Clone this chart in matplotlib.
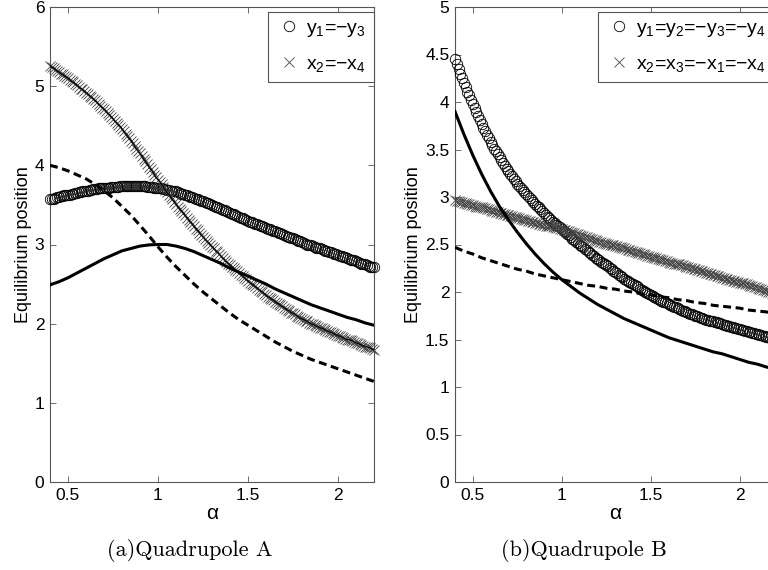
import numpy as np
import matplotlib.pyplot as plt
from matplotlib.ticker import FormatStrFormatter

plt.rcParams['font.family'] = ['Liberation Sans', 'DejaVu Sans']
plt.rcParams['mathtext.fontset'] = 'custom'
plt.rcParams['mathtext.rm'] = 'Liberation Sans'
plt.rcParams['mathtext.it'] = 'Liberation Sans'

# alpha grid of the marker series (one marker every 0.01)
alpha_fine = np.linspace(0.4, 2.2, 181)
# alpha grid of the plain lines (every 0.05)
alpha_line = np.linspace(0.4, 2.2, 37)

# ---- Quadrupole A ----
a_circ = [
    3.57, 3.58, 3.58, 3.59, 3.60, 3.60, 3.61, 3.61, 3.62, 3.62,
    3.63, 3.63, 3.64, 3.64, 3.65, 3.65, 3.66, 3.66, 3.67, 3.67,
    3.68, 3.68, 3.69, 3.69, 3.70, 3.70, 3.70, 3.71, 3.71, 3.71,
    3.72, 3.72, 3.72, 3.72, 3.73, 3.73, 3.73, 3.73, 3.73, 3.74,
    3.74, 3.74, 3.74, 3.74, 3.74, 3.74, 3.74, 3.74, 3.74, 3.74,
    3.74, 3.74, 3.74, 3.74, 3.73, 3.73, 3.73, 3.73, 3.72, 3.72,
    3.72, 3.71, 3.71, 3.70, 3.70, 3.69, 3.69, 3.68, 3.68, 3.67,
    3.67, 3.66, 3.65, 3.64, 3.64, 3.63, 3.62, 3.61, 3.60, 3.60,
    3.59, 3.58, 3.57, 3.56, 3.55, 3.55, 3.54, 3.53, 3.52, 3.51,
    3.50, 3.49, 3.48, 3.47, 3.46, 3.45, 3.44, 3.43, 3.42, 3.41,
    3.40, 3.39, 3.38, 3.37, 3.36, 3.35, 3.34, 3.33, 3.32, 3.31,
    3.30, 3.29, 3.28, 3.27, 3.26, 3.26, 3.25, 3.24, 3.23, 3.22,
    3.21, 3.20, 3.19, 3.18, 3.17, 3.17, 3.16, 3.15, 3.14, 3.13,
    3.12, 3.11, 3.10, 3.09, 3.08, 3.08, 3.07, 3.06, 3.05, 3.04,
    3.03, 3.02, 3.01, 3.00, 3.00, 2.99, 2.98, 2.97, 2.96, 2.96,
    2.95, 2.94, 2.93, 2.92, 2.92, 2.91, 2.90, 2.89, 2.88, 2.88,
    2.87, 2.86, 2.85, 2.84, 2.84, 2.83, 2.82, 2.81, 2.80, 2.80,
    2.79, 2.78, 2.77, 2.76, 2.76, 2.75, 2.74, 2.73, 2.72, 2.72,
    2.71]
a_cross = [
    5.26, 5.24, 5.23, 5.21, 5.19, 5.18, 5.16, 5.15, 5.13, 5.12,
    5.10, 5.08, 5.06, 5.05, 5.03, 5.01, 4.99, 4.97, 4.96, 4.94,
    4.92, 4.90, 4.88, 4.86, 4.84, 4.82, 4.80, 4.77, 4.75, 4.73,
    4.71, 4.69, 4.66, 4.64, 4.61, 4.59, 4.56, 4.54, 4.51, 4.49,
    4.46, 4.43, 4.40, 4.37, 4.34, 4.31, 4.28, 4.24, 4.21, 4.18,
    4.15, 4.12, 4.08, 4.05, 4.02, 3.98, 3.95, 3.92, 3.88, 3.85,
    3.82, 3.79, 3.76, 3.73, 3.69, 3.66, 3.63, 3.60, 3.57, 3.54,
    3.51, 3.48, 3.45, 3.42, 3.40, 3.37, 3.34, 3.31, 3.28, 3.26,
    3.23, 3.20, 3.18, 3.15, 3.12, 3.10, 3.07, 3.05, 3.02, 3.00,
    2.97, 2.95, 2.92, 2.90, 2.88, 2.85, 2.83, 2.81, 2.78, 2.76,
    2.74, 2.72, 2.70, 2.68, 2.66, 2.64, 2.62, 2.60, 2.58, 2.56,
    2.54, 2.52, 2.50, 2.49, 2.47, 2.45, 2.43, 2.41, 2.40, 2.38,
    2.36, 2.34, 2.33, 2.31, 2.30, 2.28, 2.26, 2.25, 2.23, 2.22,
    2.20, 2.19, 2.17, 2.16, 2.14, 2.13, 2.12, 2.10, 2.09, 2.07,
    2.06, 2.05, 2.04, 2.03, 2.01, 2.00, 1.99, 1.98, 1.97, 1.96,
    1.95, 1.94, 1.93, 1.92, 1.91, 1.90, 1.89, 1.88, 1.87, 1.86,
    1.85, 1.84, 1.83, 1.82, 1.81, 1.80, 1.80, 1.79, 1.78, 1.77,
    1.76, 1.75, 1.74, 1.73, 1.72, 1.71, 1.71, 1.70, 1.69, 1.68,
    1.67]
a_solid = [2.49, 2.53, 2.58, 2.64, 2.70, 2.76, 2.82, 2.87, 2.92, 2.95,
           2.98, 2.995, 3.00, 3.00, 2.98, 2.95, 2.91, 2.86, 2.81, 2.76,
           2.70, 2.65, 2.60, 2.55, 2.50, 2.44, 2.39, 2.34, 2.29, 2.24,
           2.20, 2.16, 2.12, 2.08, 2.05, 2.01, 1.98]
a_dash = [4.00, 3.97, 3.93, 3.88, 3.83, 3.76, 3.68, 3.59, 3.48, 3.37,
          3.24, 3.11, 2.97, 2.84, 2.72, 2.61, 2.50, 2.40, 2.31, 2.22,
          2.13, 2.05, 1.98, 1.91, 1.84, 1.77, 1.71, 1.65, 1.60, 1.55,
          1.51, 1.47, 1.43, 1.39, 1.35, 1.31, 1.27]

# ---- Quadrupole B ----
b_circ = [
    4.45, 4.40, 4.35, 4.30, 4.25, 4.20, 4.16, 4.11, 4.07, 4.02,
    3.98, 3.94, 3.89, 3.85, 3.81, 3.77, 3.73, 3.69, 3.65, 3.62,
    3.58, 3.55, 3.51, 3.48, 3.45, 3.42, 3.39, 3.36, 3.33, 3.30,
    3.27, 3.24, 3.22, 3.19, 3.17, 3.14, 3.12, 3.10, 3.07, 3.05,
    3.03, 3.01, 2.99, 2.97, 2.95, 2.93, 2.91, 2.89, 2.87, 2.85,
    2.83, 2.81, 2.79, 2.78, 2.76, 2.74, 2.73, 2.71, 2.69, 2.68,
    2.66, 2.64, 2.63, 2.61, 2.60, 2.58, 2.56, 2.55, 2.53, 2.52,
    2.50, 2.48, 2.47, 2.45, 2.44, 2.42, 2.41, 2.39, 2.38, 2.36,
    2.35, 2.34, 2.32, 2.31, 2.29, 2.28, 2.27, 2.25, 2.24, 2.22,
    2.21, 2.20, 2.18, 2.17, 2.16, 2.14, 2.13, 2.12, 2.11, 2.09,
    2.08, 2.07, 2.06, 2.05, 2.03, 2.02, 2.01, 2.00, 1.99, 1.98,
    1.97, 1.96, 1.95, 1.94, 1.93, 1.92, 1.91, 1.90, 1.89, 1.88,
    1.87, 1.86, 1.85, 1.84, 1.84, 1.83, 1.82, 1.81, 1.80, 1.80,
    1.79, 1.78, 1.77, 1.77, 1.76, 1.75, 1.75, 1.74, 1.73, 1.73,
    1.72, 1.71, 1.71, 1.70, 1.70, 1.69, 1.68, 1.68, 1.67, 1.67,
    1.66, 1.65, 1.65, 1.64, 1.64, 1.63, 1.63, 1.62, 1.62, 1.61,
    1.61, 1.60, 1.60, 1.59, 1.59, 1.58, 1.58, 1.57, 1.57, 1.56,
    1.56, 1.55, 1.55, 1.54, 1.54, 1.53, 1.53, 1.52, 1.52, 1.51,
    1.51]
b_cross = [
    2.97, 2.96, 2.96, 2.95, 2.95, 2.94, 2.94, 2.93, 2.93, 2.92,
    2.92, 2.91, 2.90, 2.90, 2.89, 2.89, 2.88, 2.88, 2.87, 2.87,
    2.86, 2.85, 2.85, 2.84, 2.84, 2.83, 2.83, 2.82, 2.82, 2.81,
    2.81, 2.80, 2.80, 2.79, 2.79, 2.78, 2.78, 2.77, 2.77, 2.76,
    2.76, 2.75, 2.75, 2.74, 2.74, 2.73, 2.73, 2.72, 2.72, 2.71,
    2.71, 2.70, 2.70, 2.69, 2.69, 2.68, 2.68, 2.67, 2.67, 2.66,
    2.66, 2.65, 2.65, 2.64, 2.64, 2.63, 2.62, 2.62, 2.61, 2.61,
    2.60, 2.59, 2.59, 2.58, 2.58, 2.57, 2.56, 2.56, 2.55, 2.55,
    2.54, 2.53, 2.53, 2.52, 2.52, 2.51, 2.51, 2.50, 2.49, 2.49,
    2.48, 2.48, 2.47, 2.47, 2.46, 2.46, 2.45, 2.44, 2.44, 2.43,
    2.43, 2.42, 2.42, 2.41, 2.41, 2.40, 2.40, 2.39, 2.38, 2.38,
    2.37, 2.37, 2.36, 2.36, 2.35, 2.35, 2.34, 2.34, 2.33, 2.33,
    2.32, 2.31, 2.31, 2.30, 2.30, 2.29, 2.29, 2.28, 2.28, 2.27,
    2.26, 2.26, 2.25, 2.25, 2.24, 2.24, 2.23, 2.23, 2.22, 2.22,
    2.21, 2.20, 2.20, 2.19, 2.19, 2.18, 2.18, 2.17, 2.17, 2.16,
    2.15, 2.15, 2.14, 2.14, 2.13, 2.13, 2.12, 2.12, 2.11, 2.11,
    2.10, 2.09, 2.09, 2.08, 2.08, 2.07, 2.06, 2.06, 2.05, 2.05,
    2.04, 2.03, 2.03, 2.02, 2.02, 2.01, 2.00, 2.00, 1.99, 1.99,
    1.98]
b_solid = [3.90, 3.66, 3.44, 3.24, 3.06, 2.90, 2.76, 2.63, 2.51, 2.40,
           2.30, 2.21, 2.13, 2.06, 1.99, 1.93, 1.87, 1.82, 1.77, 1.72,
           1.68, 1.64, 1.60, 1.56, 1.52, 1.49, 1.46, 1.43, 1.40, 1.37,
           1.35, 1.32, 1.29, 1.26, 1.24, 1.21, 1.19]
b_dash = [2.47, 2.43, 2.40, 2.36, 2.33, 2.30, 2.27, 2.24, 2.22, 2.19,
          2.17, 2.15, 2.13, 2.11, 2.09, 2.07, 2.06, 2.04, 2.03, 2.01,
          2.00, 1.98, 1.97, 1.95, 1.94, 1.92, 1.91, 1.89, 1.88, 1.86,
          1.85, 1.84, 1.83, 1.81, 1.80, 1.79, 1.78]

panels = [
    dict(circ=a_circ, cross=a_cross, solid=a_solid, dash=a_dash, ymax=6,
         yticks=[0, 1, 2, 3, 4, 5, 6], thin_line=True,
         labels=[r'$\mathregular{y_1}$=−$\mathregular{y_3}$',
                 r'$\mathregular{x_2}$=−$\mathregular{x_4}$'],
         caption='(a)Quadrupole A'),
    dict(circ=b_circ, cross=b_cross, solid=b_solid, dash=b_dash, ymax=5,
         yticks=[0, 0.5, 1, 1.5, 2, 2.5, 3, 3.5, 4, 4.5, 5], thin_line=False,
         labels=[r'$\mathregular{y_1}$=$\mathregular{y_2}$=−$\mathregular{y_3}$=−$\mathregular{y_4}$',
                 r'$\mathregular{x_2}$=$\mathregular{x_3}$=−$\mathregular{x_1}$=−$\mathregular{x_4}$'],
         caption='(b)Quadrupole B'),
]

W, H = 768, 570
fig = plt.figure(figsize=(W / 100, H / 100), dpi=100)

# axes boxes in pixels: left edge, width
boxes = [(50, 324), (455, 320.4)]
legend_left_px = [268, 598]
ylabel_x_px = [32, 422]
caption_x_px = [190, 584]
ax_top, ax_bot = 7, 482

for p, (x0, w), leg_x, ylx, cap_x in zip(panels, boxes, legend_left_px,
                                         ylabel_x_px, caption_x_px):
    ax = fig.add_axes([x0 / W, 1 - ax_bot / H, w / W, (ax_bot - ax_top) / H])

    ax.plot(alpha_fine, p['circ'], linestyle='none', marker='o', ms=7.5,
            mfc='none', mec='black', mew=0.6, clip_on=False, zorder=3,
            label=p['labels'][0])
    ax.plot(alpha_fine, p['cross'], linestyle='none', marker='x', ms=6.5,
            mec='#444444', mew=0.6, clip_on=False, zorder=3,
            label=p['labels'][1])
    if p['thin_line']:
        ax.plot(alpha_fine, p['cross'], color='black', lw=0.8, zorder=4)
    ax.plot(alpha_line, p['solid'], color='black', lw=2.2, zorder=4)
    ax.plot(alpha_line, p['dash'], color='black', lw=2.2,
            dashes=(2.6, 1.5), zorder=4)

    ax.set_xlim(0.4, 2.2)
    ax.set_ylim(0, p['ymax'])
    ax.set_xticks([0.5, 1, 1.5, 2])
    ax.set_yticks(p['yticks'])
    ax.xaxis.set_major_formatter(FormatStrFormatter('%g'))
    ax.yaxis.set_major_formatter(FormatStrFormatter('%g'))
    ax.tick_params(direction='in', top=True, right=True, length=4,
                   width=0.6, color='#555555', labelsize=12.5, pad=4)
    for s in ax.spines.values():
        s.set_color('#555555')
        s.set_linewidth(0.8)
    ax.set_xlabel('α', fontsize=15, labelpad=1)
    ax.set_ylabel('Equilibrium position', fontsize=13)
    ax.yaxis.set_label_coords((ylx - x0) / w, 0.5)

    leg = ax.legend(loc='upper left',
                    bbox_to_anchor=((leg_x - x0) / w, (ax_bot - 12) / (ax_bot - ax_top)),
                    fontsize=14, handlelength=1.4, handletextpad=0.2,
                    borderpad=0.38, labelspacing=0.85, borderaxespad=0,
                    fancybox=False, framealpha=1, edgecolor='#555555')
    leg.get_frame().set_linewidth(0.8)

    fig.text(cap_x / W, 1 - 550 / H, p['caption'], family='cmr10',
             fontsize=16, ha='center', va='center')

fig.savefig('out.png', dpi=100)
